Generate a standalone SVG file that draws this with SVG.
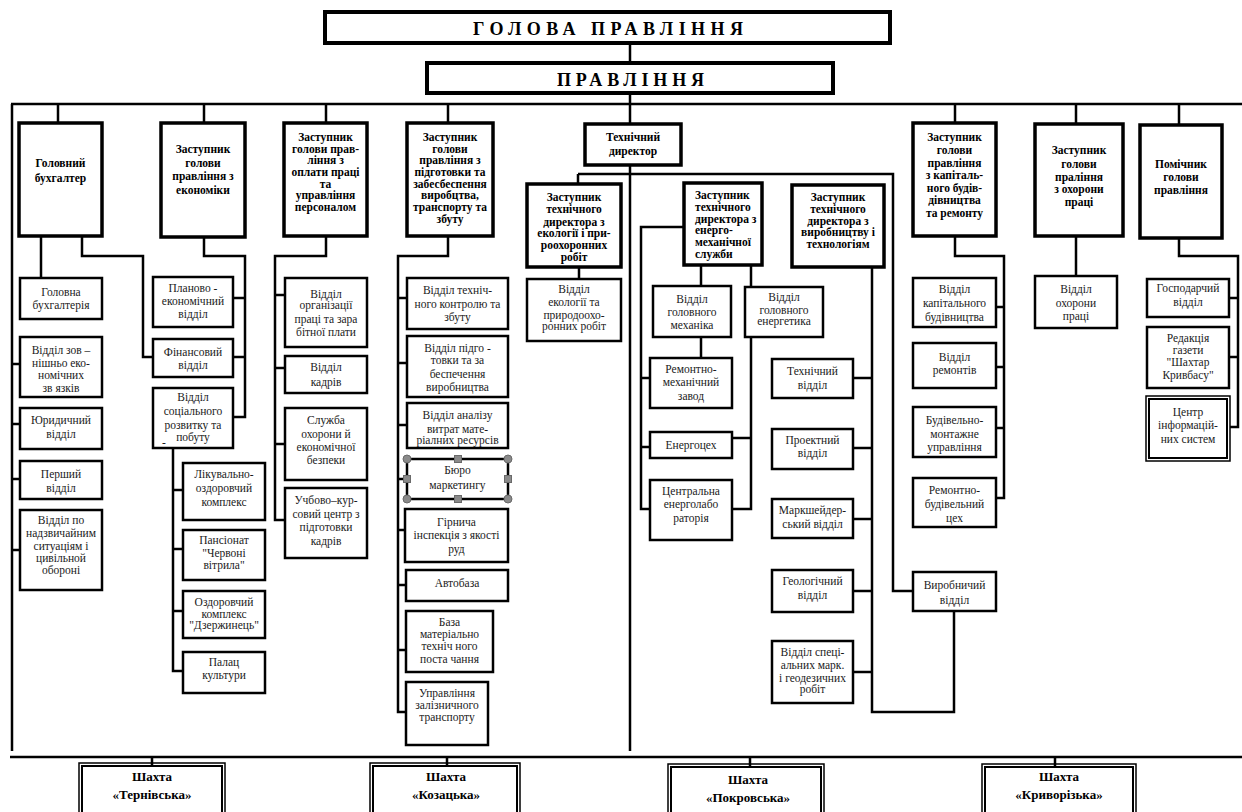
<svg xmlns="http://www.w3.org/2000/svg" width="1242" height="812" viewBox="0 0 1242 812">
<style>
.hb{fill:#fff;stroke:#000;stroke-width:4}
.b{fill:#fff;stroke:#000;stroke-width:3.5}
.s{fill:#fff;stroke:#000;stroke-width:2.5}
.d{fill:none;stroke:#000;stroke-width:1.5}
.c{fill:none;stroke:#000;stroke-width:2.5}
.h{font-family:"Liberation Serif",serif;font-weight:bold;font-size:18px;fill:#000}
.tb{font-family:"Liberation Serif",serif;font-weight:bold;font-size:11.5px;text-anchor:middle;fill:#000}
.t{font-family:"Liberation Serif",serif;font-size:11.5px;text-anchor:middle;fill:#1a1a1a}
.tl{font-family:"Liberation Serif",serif;font-weight:bold;font-size:11.5px;fill:#000}
.sh{font-family:"Liberation Serif",serif;font-weight:bold;font-size:13px;text-anchor:middle;fill:#000}
.hd{fill:#8a8a8a;stroke:#6a6a6a;stroke-width:1}
</style>
<rect width="1242" height="812" fill="#fff"/>
<g id="connectors">
<path class="c" d="M630 43V63M630 93V124M11 104H1242M12 104V751M10 757H1242"/>
<path class="c" d="M58 104V123M204 104V123M326 104V123M448 104V123M955 104V123M1076 104V124M1179 104V125"/>
<path class="c" d="M630 165V751M578 174H893V591H913M578 174V184M579 267V279"/>
<path class="c" d="M701 265V286M751 265V287M701 337V358M751 337V509H732M732 438H751M684 227H641V509H650M641 378H650M641 447H650"/>
<path class="c" d="M872 267V712H954V611M853 378H872M853 448H872M853 519H872M853 591H872M853 672H872"/>
<path class="c" d="M41 236V278M82 236V256H143V357H153M12 364H20M12 424H20M12 479H20M12 550H20"/>
<path class="c" d="M204 237V256H245V417H233M233 298H245M233 357H245M173 448V671H183M173 490H183M173 549H183M173 611H183"/>
<path class="c" d="M326 236V256H275V520H285M275 295H285M275 368H285M275 444H285"/>
<path class="c" d="M448 236V256H398V712H406M398 298H407M398 363H407M398 425H407M398 479H407M398 530H405M398 585H406M398 650H406"/>
<path class="c" d="M955 236V256H1004V498H996M996 307H1004M996 367H1004M996 428H1004M1076 236V276M1179 238V256H1238V427H1230M1229 298H1238M1229 357H1238"/>
<path class="c" d="M152 757V766M447 757V766M750 757V767M1055 757V767"/>
</g>
<g id="head"><rect class="hb" x="325" y="12" width="565" height="31"/><text class="h" x="473" y="35" textLength="270" lengthAdjust="spacing">ГОЛОВА  ПРАВЛІННЯ</text></g>
<g id="board"><rect class="hb" x="427" y="63" width="406" height="30"/><text class="h" x="557" y="86" textLength="147" lengthAdjust="spacing">ПРАВЛІННЯ</text></g>

<g id="n-buh"><rect class="b" x="19" y="123" width="83" height="113"/><text class="tb" font-size="12.5"><tspan x="60.5" y="167">Головний</tspan><tspan x="60.5" y="182">бухгалтер</tspan></text></g>
<g id="n-econ"><rect class="b" x="161" y="123" width="84" height="114"/><text class="tb"><tspan x="203" y="153">Заступник</tspan><tspan x="203" y="166.5">голови</tspan><tspan x="203" y="180">правління з</tspan><tspan x="203" y="193.5">економіки</tspan></text></g>
<g id="n-pers"><rect class="b" x="284" y="123" width="83" height="113"/><text class="tb" font-size="11"><tspan x="325.5" y="141">Заступник</tspan><tspan x="325.5" y="152.5">голови прав-</tspan><tspan x="325.5" y="164">ління з</tspan><tspan x="325.5" y="176">оплати праці</tspan><tspan x="325.5" y="187.5">та</tspan><tspan x="325.5" y="199">управління</tspan><tspan x="325.5" y="211">персоналом</tspan></text></g>
<g id="n-prod"><rect class="b" x="407" y="123" width="86" height="113"/><text class="tb" font-size="11"><tspan x="450" y="141">Заступник</tspan><tspan x="450" y="152.5">голови</tspan><tspan x="450" y="164">правління з</tspan><tspan x="450" y="176">підготовки та</tspan><tspan x="450" y="187.5">забесбеспення</tspan><tspan x="450" y="199">виробцтва,</tspan><tspan x="450" y="211">транспорту та</tspan><tspan x="450" y="223">збуту</tspan></text></g>
<g id="n-tech"><rect class="b" x="585" y="124" width="96" height="41"/><text class="tb" font-size="12"><tspan x="633" y="141">Технічний</tspan><tspan x="633" y="154.5">директор</tspan></text></g>
<g id="n-cap"><rect class="b" x="913" y="123" width="83" height="113"/><text class="tb"><tspan x="954.5" y="141">Заступник</tspan><tspan x="954.5" y="154">голови</tspan><tspan x="954.5" y="166.5">правління</tspan><tspan x="954.5" y="179">з капіталь-</tspan><tspan x="954.5" y="191.5">ного будів-</tspan><tspan x="954.5" y="204">дівництва</tspan><tspan x="954.5" y="217">та ремонту</tspan></text></g>
<g id="n-safe"><rect class="b" x="1035" y="124" width="88" height="112"/><text class="tb"><tspan x="1079" y="154">Заступник</tspan><tspan x="1079" y="167.5">голови</tspan><tspan x="1079" y="181">праління</tspan><tspan x="1079" y="193">з охорони</tspan><tspan x="1079" y="206">праці</tspan></text></g>
<g id="n-asst"><rect class="b" x="1140" y="125" width="82" height="113"/><text class="tb"><tspan x="1181" y="167.5">Помічник</tspan><tspan x="1181" y="181">голови</tspan><tspan x="1181" y="194">правління</tspan></text></g>

<g id="n-eco"><rect class="b" x="527" y="184" width="94" height="83"/><text class="tb" font-size="11"><tspan x="574" y="201">Заступник</tspan><tspan x="574" y="212.5">технічного</tspan><tspan x="574" y="225.5">директора з</tspan><tspan x="574" y="237">екології  і при-</tspan><tspan x="574" y="249">роохоронних</tspan><tspan x="574" y="260.5">робіт</tspan></text></g>
<g id="n-energo"><rect class="b" x="684" y="183" width="78" height="82"/><text class="tl" font-size="11"><tspan x="695" y="198.5">Заступник</tspan><tspan x="695" y="211">технічного</tspan><tspan x="695" y="222.5">директора з</tspan><tspan x="695" y="234">енерго-</tspan><tspan x="695" y="246">механічної</tspan><tspan x="695" y="258">служби</tspan></text></g>
<g id="n-vyrob"><rect class="b" x="792" y="185" width="92" height="82"/><text class="tb" font-size="11"><tspan x="838" y="201">Заступник</tspan><tspan x="838" y="212.5">технічного</tspan><tspan x="838" y="225">директора з</tspan><tspan x="838" y="236">виробництву і</tspan><tspan x="838" y="248">технологіям</tspan></text></g>

<g id="n-ecodep"><rect class="s" x="527" y="279" width="94" height="62"/><text class="t" font-size="12"><tspan x="574" y="292.5">Відділ</tspan><tspan x="574" y="305.5">екології та</tspan><tspan x="574" y="318.5">природоохо-</tspan><tspan x="574" y="330">ронних робіт</tspan></text></g>
<g id="n-mech"><rect class="s" x="653" y="286" width="78" height="51"/><text class="t" font-size="12.5"><tspan x="692" y="302.5">Відділ</tspan><tspan x="692" y="316">головного</tspan><tspan x="692" y="329">механіка</tspan></text></g>
<g id="n-energ"><rect class="s" x="745" y="287" width="78" height="50"/><text class="t" font-size="11"><tspan x="784" y="301">Відділ</tspan><tspan x="784" y="313.5">головного</tspan><tspan x="784" y="325">енергетика</tspan></text></g>
<g id="n-rmz"><rect class="s" x="650" y="358" width="82" height="50"/><text class="t" font-size="10.5"><tspan x="691" y="373">Ремонтно-</tspan><tspan x="691" y="385.5">механічний</tspan><tspan x="691" y="400">завод</tspan></text></g>
<g id="n-ec"><rect class="s" x="650" y="432" width="82" height="26"/><text class="t" font-size="12"><tspan x="691" y="448.5">Енергоцех</tspan></text></g>
<g id="n-cel"><rect class="s" x="650" y="480" width="82" height="60"/><text class="t" font-size="12"><tspan x="691" y="495">Центральна</tspan><tspan x="691" y="508">енерголабо</tspan><tspan x="691" y="522">раторія</tspan></text></g>

<g id="n-techd"><rect class="s" x="772" y="359" width="81" height="39"/><text class="t" font-size="12"><tspan x="812.5" y="375">Технічний</tspan><tspan x="812.5" y="389">відділ</tspan></text></g>
<g id="n-proj"><rect class="s" x="772" y="429" width="81" height="40"/><text class="t"><tspan x="812.5" y="443.5">Проектний</tspan><tspan x="812.5" y="457">відділ</tspan></text></g>
<g id="n-mark"><rect class="s" x="772" y="499" width="81" height="39"/><text class="t" font-size="11"><tspan x="812.5" y="514">Маркшейдер-</tspan><tspan x="812.5" y="527.5">ський відділ</tspan></text></g>
<g id="n-geo"><rect class="s" x="772" y="570" width="81" height="42"/><text class="t"><tspan x="812.5" y="585">Геологічний</tspan><tspan x="812.5" y="598.5">відділ</tspan></text></g>
<g id="n-spec"><rect class="s" x="772" y="641" width="81" height="62"/><text class="t" font-size="11"><tspan x="812.5" y="656">Відділ спеці-</tspan><tspan x="812.5" y="669">альних марк.</tspan><tspan x="812.5" y="681.5">і геодезичних</tspan><tspan x="812.5" y="692.5">робіт</tspan></text></g>
<g id="n-vyrd"><rect class="s" x="913" y="572" width="83" height="39"/><text class="t"><tspan x="954.5" y="588.5">Виробничий</tspan><tspan x="954.5" y="604">відділ</tspan></text></g>

<g id="n-gb"><rect class="s" x="20" y="278" width="82" height="41"/><text class="t" font-size="12"><tspan x="61" y="296">Головна</tspan><tspan x="61" y="309">бухгалтерія</tspan></text></g>
<g id="n-zed"><rect class="s" x="20" y="337" width="82" height="60"/><text class="t"><tspan x="61" y="353.5">Відділ зов –</tspan><tspan x="61" y="366.5">нішньо еко-</tspan><tspan x="61" y="379">номічних</tspan><tspan x="61" y="392">зв язків</tspan></text></g>
<g id="n-jur"><rect class="s" x="20" y="408" width="82" height="41"/><text class="t" font-size="12"><tspan x="61" y="424">Юридичний</tspan><tspan x="61" y="437.5">відділ</tspan></text></g>
<g id="n-first"><rect class="s" x="20" y="461" width="82" height="38"/><text class="t" font-size="12"><tspan x="61" y="477.5">Перший</tspan><tspan x="61" y="492">відділ</tspan></text></g>
<g id="n-ns"><rect class="s" x="20" y="510" width="82" height="80"/><text class="t"><tspan x="61" y="524">Відділ по</tspan><tspan x="61" y="537">надзвичайним</tspan><tspan x="61" y="550">ситуаціям і</tspan><tspan x="61" y="562">цивільной</tspan><tspan x="61" y="573.5">обороні</tspan></text></g>

<g id="n-plan"><rect class="s" x="153" y="277" width="80" height="50"/><text class="t"><tspan x="193" y="292">Планово -</tspan><tspan x="193" y="305">економічний</tspan><tspan x="193" y="318">відділ</tspan></text></g>
<g id="n-fin"><rect class="s" x="153" y="339" width="80" height="38"/><text class="t" font-size="12"><tspan x="193" y="356">Фінансовий</tspan><tspan x="193" y="369">відділ</tspan></text></g>
<g id="n-soc"><rect class="s" x="153" y="388" width="80" height="60"/><text class="t"><tspan x="193" y="401">Відділ</tspan><tspan x="193" y="415">соціального</tspan><tspan x="193" y="429">розвитку та</tspan><tspan x="193" y="441">побуту</tspan><tspan x="164" y="446">-</tspan></text></g>
<g id="n-lik"><rect class="s" x="183" y="463" width="82" height="57"/><text class="t" font-size="12"><tspan x="224" y="478">Лікувально-</tspan><tspan x="224" y="492">оздоровчий</tspan><tspan x="224" y="506">комплекс</tspan></text></g>
<g id="n-pans"><rect class="s" x="183" y="530" width="82" height="50"/><text class="t"><tspan x="224" y="544">Пансіонат</tspan><tspan x="224" y="557">"Червоні</tspan><tspan x="224" y="569">вітрила"</tspan></text></g>
<g id="n-ozd"><rect class="s" x="183" y="591" width="82" height="47"/><text class="t"><tspan x="224" y="606">Оздоровчий</tspan><tspan x="224" y="618">комплекс</tspan><tspan x="224" y="629">"Дзержинець"</tspan></text></g>
<g id="n-pal"><rect class="s" x="183" y="652" width="82" height="41"/><text class="t" font-size="12"><tspan x="224" y="666">Палац</tspan><tspan x="224" y="679">культури</tspan></text></g>

<g id="n-org"><rect class="s" x="285" y="278" width="82" height="69"/><text class="t"><tspan x="326" y="297.5">Відділ</tspan><tspan x="326" y="309">організації</tspan><tspan x="326" y="322.5">праці та зара</tspan><tspan x="326" y="336">бітної плати</tspan></text></g>
<g id="n-kadr"><rect class="s" x="285" y="356" width="82" height="37"/><text class="t" font-size="12.5"><tspan x="326" y="371">Відділ</tspan><tspan x="326" y="386">кадрів</tspan></text></g>
<g id="n-sec"><rect class="s" x="285" y="408" width="82" height="72"/><text class="t"><tspan x="326" y="423.5">Служба</tspan><tspan x="326" y="437.5">охорони й</tspan><tspan x="326" y="451">економічної</tspan><tspan x="326" y="464">безпеки</tspan></text></g>
<g id="n-ucb"><rect class="s" x="285" y="488" width="82" height="70"/><text class="t" font-size="12"><tspan x="326" y="504">Учбово–кур-</tspan><tspan x="326" y="517.5">совий центр з</tspan><tspan x="326" y="531">підготовки</tspan><tspan x="326" y="545">кадрів</tspan></text></g>

<g id="n-tkz"><rect class="s" x="407" y="278" width="101" height="51"/><text class="t" font-size="11"><tspan x="457.5" y="293.5">Відділ техніч-</tspan><tspan x="457.5" y="307.5">ного контролю та</tspan><tspan x="457.5" y="321">збуту</tspan></text></g>
<g id="n-pzv"><rect class="s" x="407" y="336" width="101" height="61"/><text class="t" font-size="11"><tspan x="457.5" y="351.5">Відділ  підго -</tspan><tspan x="457.5" y="364">товки  та за</tspan><tspan x="457.5" y="377.5">беспечення</tspan><tspan x="457.5" y="391">виробництва</tspan></text></g>
<g id="n-anal"><rect class="s" x="407" y="403" width="101" height="45"/><text class="t" font-size="11"><tspan x="457.5" y="419">Відділ аналізу</tspan><tspan x="457.5" y="432.5">витрат  мате-</tspan><tspan x="457.5" y="444">ріалних ресурсів</tspan></text></g>
<g id="n-buro"><rect class="s" x="407" y="459" width="101" height="40"/><text class="t" font-size="11"><tspan x="457.5" y="474">Бюро</tspan><tspan x="457.5" y="489">маркетингу</tspan></text>
<circle class="hd" cx="407" cy="459" r="4"/><circle class="hd" cx="508" cy="459" r="4"/><circle class="hd" cx="407" cy="499" r="4"/><circle class="hd" cx="508" cy="499" r="4"/>
<rect class="hd" x="454.5" y="455.5" width="7" height="7"/><rect class="hd" x="454.5" y="495.5" width="7" height="7"/><rect class="hd" x="403.5" y="475.5" width="7" height="7"/><rect class="hd" x="504.5" y="475.5" width="7" height="7"/></g>
<g id="n-girn"><rect class="s" x="405" y="509" width="103" height="53"/><text class="t"><tspan x="456.5" y="526">Гірнича</tspan><tspan x="456.5" y="539">інспекція з якості</tspan><tspan x="456.5" y="552.5">руд</tspan></text></g>
<g id="n-avto"><rect class="s" x="406" y="570" width="102" height="31"/><text class="t" font-size="13"><tspan x="457" y="587">Автобаза</tspan></text></g>
<g id="n-baza"><rect class="s" x="406" y="611" width="87" height="61"/><text class="t" font-size="11"><tspan x="449.5" y="626">База</tspan><tspan x="449.5" y="638">матеріально</tspan><tspan x="449.5" y="650">техніч ного</tspan><tspan x="449.5" y="662.5">поста чання</tspan></text></g>
<g id="n-zal"><rect class="s" x="406" y="682" width="82" height="63"/><text class="t" font-size="11"><tspan x="447" y="697">Управління</tspan><tspan x="447" y="709">залізничного</tspan><tspan x="447" y="721">транспорту</tspan></text></g>

<g id="n-kb"><rect class="s" x="913" y="278" width="83" height="49"/><text class="t" font-size="11"><tspan x="954.5" y="292.5">Відділ</tspan><tspan x="954.5" y="306.5">капітального</tspan><tspan x="954.5" y="320.5">будівництва</tspan></text></g>
<g id="n-rem"><rect class="s" x="913" y="343" width="83" height="45"/><text class="t" font-size="12"><tspan x="954.5" y="361">Відділ</tspan><tspan x="954.5" y="374">ремонтів</tspan></text></g>
<g id="n-bmu"><rect class="s" x="913" y="407" width="83" height="50"/><text class="t"><tspan x="954.5" y="424">Будівельно-</tspan><tspan x="954.5" y="438">монтажне</tspan><tspan x="954.5" y="451">управління</tspan></text></g>
<g id="n-rbc"><rect class="s" x="913" y="478" width="83" height="49"/><text class="t"><tspan x="954.5" y="494">Ремонтно-</tspan><tspan x="954.5" y="507.5">будівельний</tspan><tspan x="954.5" y="521.5">цех</tspan></text></g>
<g id="n-op"><rect class="s" x="1035" y="276" width="82" height="52"/><text class="t"><tspan x="1076" y="292.5">Відділ</tspan><tspan x="1076" y="306.5">охорони</tspan><tspan x="1076" y="320">праці</tspan></text></g>
<g id="n-gosp"><rect class="s" x="1147" y="279" width="82" height="38"/><text class="t" font-size="11"><tspan x="1188" y="291.5">Господарчий</tspan><tspan x="1188" y="306">відділ</tspan></text></g>
<g id="n-red"><rect class="s" x="1147" y="327" width="82" height="61"/><text class="t" font-size="11"><tspan x="1188" y="342">Редакція</tspan><tspan x="1188" y="354">газети</tspan><tspan x="1188" y="366">"Шахтар</tspan><tspan x="1188" y="379">Кривбасу"</tspan></text></g>
<g id="n-cis"><rect class="d" x="1146" y="396" width="84" height="65"/><rect x="1149" y="399" width="78" height="59" fill="#fff" stroke="#000" stroke-width="2"/><text class="t"><tspan x="1188" y="416">Центр</tspan><tspan x="1188" y="429">інформацій-</tspan><tspan x="1188" y="442.5">них систем</tspan></text></g>

<g id="m-tern"><rect class="d" x="79" y="763" width="146" height="60"/><rect x="82" y="766" width="140" height="54" fill="#fff" stroke="#000" stroke-width="2"/><text class="sh"><tspan x="152" y="781">Шахта</tspan><tspan x="152" y="799">«Тернівська»</tspan></text></g>
<g id="m-koz"><rect class="d" x="370" y="763" width="150" height="60"/><rect x="373" y="766" width="144" height="54" fill="#fff" stroke="#000" stroke-width="2"/><text class="sh"><tspan x="446" y="781">Шахта</tspan><tspan x="446" y="799">«Козацька»</tspan></text></g>
<g id="m-pokr"><rect class="d" x="668" y="764" width="156" height="60"/><rect x="671" y="767" width="150" height="54" fill="#fff" stroke="#000" stroke-width="2"/><text class="sh"><tspan x="748" y="784">Шахта</tspan><tspan x="748" y="802">«Покровська»</tspan></text></g>
<g id="m-kryv"><rect class="d" x="982" y="764" width="154" height="60"/><rect x="985" y="767" width="148" height="54" fill="#fff" stroke="#000" stroke-width="2"/><text class="sh"><tspan x="1059" y="781">Шахта</tspan><tspan x="1059" y="799">«Криворізька»</tspan></text></g>
</svg>
